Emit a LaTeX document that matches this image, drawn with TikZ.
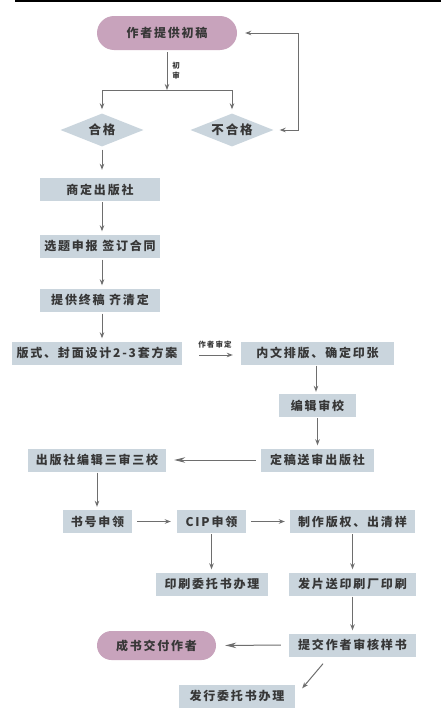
\documentclass[tikz,border=0pt]{standalone}
\usepackage{fontspec}
\newfontfamily\cjk[LetterSpace=15]{Noto Sans CJK SC}
\usetikzlibrary{shapes.geometric,arrows.meta}
\definecolor{boxc}{RGB}{202,213,221}
\definecolor{pillc}{RGB}{200,163,188}
\definecolor{txt}{RGB}{55,55,55}
\definecolor{arrc}{RGB}{110,110,110}
\tikzset{
  box/.style={fill=boxc, inner sep=0pt, minimum height=23pt, text=txt, font={\fontsize{12}{14}\cjk\bfseries}},
  pill/.style={box, fill=pillc},
  dia/.style={diamond, aspect=2.5, fill=boxc, inner sep=0pt, minimum width=83pt, minimum height=33pt, text=txt, font={\fontsize{12.5}{14}\cjk\bfseries}},
  arr/.style={draw=arrc, line width=1pt, -{Stealth[length=6pt,width=4.5pt]}},
  bigarr/.style={arr, -{Stealth[length=11pt,width=5.5pt]}},
  both/.style={draw=arrc, line width=1pt, {Stealth[length=6pt,width=4.5pt]}-{Stealth[length=6pt,width=4.5pt]}},
  lbl/.style={text=txt, inner sep=0pt, font={\fontsize{7.5}{9.5}\cjk\bfseries}, align=center}
}
\begin{document}
\begin{tikzpicture}[x=1pt,y=-1pt]
\useasboundingbox (0,0) rectangle (441,723);
\fill[white] (0,0) rectangle (441,723);
\draw[black, line width=1.6pt] (15,0.8) -- (441,0.8);

% nodes
\node[pill, minimum width=140pt, minimum height=34pt, rounded corners=17pt] (top) at (167,33) {作者提供初稿};
\node[dia] (ok) at (102,130) {合格};
\node[dia] (nok) at (232,130) {不合格};
\node[box, minimum width=120pt] (b1) at (100,189.5) {商定出版社};
\node[box, minimum width=120pt] (b2) at (100,246) {选题申报 签订合同};
\node[box, minimum width=120pt] (b3) at (100,300) {提供终稿 齐清定};
\node[box, minimum width=170pt] (b4) at (97,353) {版式、封面设计2-3套方案};
\node[box, minimum width=153pt] (b5) at (317.5,353) {内文排版、确定印张};
\node[box, minimum width=77pt] (b6) at (317.5,405.5) {编辑审校};
\node[box, minimum width=113pt] (b7) at (317.5,460) {定稿送审出版社};
\node[box, minimum width=138pt] (b8) at (97,460) {出版社编辑三审三校};
\node[box, minimum width=69pt] (b9) at (97.5,521.5) {书号申领};
\node[box, minimum width=69pt] (b10) at (211.5,521.5) {CIP申领};
\node[box, minimum width=125pt] (b11) at (352.5,521.5) {制作版权、出清样};
\node[box, minimum width=112pt] (b12) at (212,584) {印刷委托书办理};
\node[box, minimum width=127pt] (b13) at (352.5,584) {发片送印刷厂印刷};
\node[box, minimum width=127pt] (b14) at (352.5,645) {提交作者审核样书};
\node[pill, minimum width=119pt, minimum height=29pt, rounded corners=14.5pt] (end) at (156.5,645.5) {成书交付作者};
\node[box, minimum width=116pt] (b15) at (237,696) {发行委托书办理};

% labels
\node[lbl] (l1) at (176,70.5) {初\\审};
\node[lbl] (l2) at (215,344.5) {作者审定};

% connectors
\coordinate (split) at (167,90);
\draw[arr, shorten <=2pt] (top) -- (split);
\draw[arr, shorten >=4pt] (split) -| (ok.north);
\draw[arr, shorten >=4pt] (split) -| (nok.north);
\coordinate (fb1) at (298,130);
\coordinate (fb2) at (298,33);
\draw[both, shorten <=6pt, shorten >=8pt] (nok.east) -- (fb1) -- (fb2) -- (top.east);

\draw[arr, shorten <=3pt, shorten >=8pt] (ok.south) -- (b1.north -| ok.south);
\draw[arr, shorten <=1pt, shorten >=3pt] (b1.south -| ok.south) -- (b2.north -| ok.south);
\draw[arr, shorten <=2pt, shorten >=3pt] (b2.south -| ok.south) -- (b3.north -| ok.south);
\draw[arr, shorten <=2pt, shorten >=3pt] (b3.south -| ok.south) -- (b4.north -| ok.south);
\draw[arr, shorten <=17pt, shorten >=8pt] ([yshift=-2pt]b4.east) -- ([yshift=-2pt]b5.west);
\draw[arr, shorten <=1pt, shorten >=2pt] ([xshift=-1.5pt]b5.south) -- ([xshift=-1.5pt]b6.north);
\draw[arr, shorten <=1pt, shorten >=3pt] (b6.south) -- (b7.north);
\draw[bigarr, shorten <=5pt, shorten >=8pt] (b7.west) -- (b8.east);
\draw[arr, shorten <=1pt, shorten >=3pt] (b8.south) -- (b8.south |- b9.north);
\draw[arr, shorten <=5pt, shorten >=6pt] (b9.east) -- (b10.west);
\draw[arr, shorten <=5pt, shorten >=5pt] (b10.east) -- (b11.west);
\draw[arr, shorten <=1pt, shorten >=3pt] (b10.south) -- (b12.north -| b10.south);
\draw[arr, shorten <=1pt, shorten >=3pt] (b11.south) -- (b13.north);
\draw[arr, shorten <=1pt, shorten >=3pt] (b13.south) -- (b14.north);
\draw[bigarr, shorten <=8pt, shorten >=9pt] (b14.west) -- (end.east);
\draw[arr] ([xshift=-29.5pt,yshift=-7pt]b14.south) -- ([xshift=7pt,yshift=-4pt]b15.north east);
\end{tikzpicture}
\end{document}
